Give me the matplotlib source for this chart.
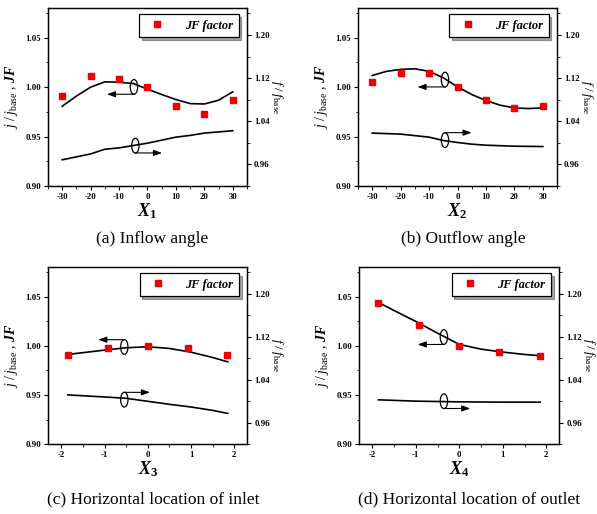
import matplotlib
matplotlib.use("Agg")
import matplotlib.pyplot as plt
from matplotlib.patches import Ellipse
from matplotlib.ticker import MultipleLocator, FormatStrFormatter

plt.rcParams['font.family'] = ['Liberation Serif', 'DejaVu Serif']
plt.rcParams['mathtext.fontset'] = 'custom'
plt.rcParams['mathtext.rm'] = 'Liberation Serif'
plt.rcParams['mathtext.it'] = 'Liberation Serif:italic'
plt.rcParams['mathtext.bf'] = 'Liberation Serif:bold'
plt.rcParams['mathtext.bfit'] = 'Liberation Serif:italic:bold'
plt.rcParams['axes.unicode_minus'] = False

# (a) inflow angle
xa_pts = [-30, -20, -10, 0, 10, 20, 30]
jfa = [0.991, 1.011, 1.008, 1.000, 0.981, 0.973, 0.987]
xa_j = [-30, -25, -20, -15, -10, -5, 0, 5, 10, 15, 20, 25, 30]
ja = [0.9807, 0.991, 1.000, 1.0054, 1.005, 1.0037, 0.998, 0.9926, 0.9875, 0.9834, 0.983, 0.9868, 0.9953]
xa_f = [-30, -20, -15, -10, 0, 10, 15, 20, 30]
fa = [0.9687, 0.9796, 0.9883, 0.9908, 0.9995, 1.0107, 1.0139, 1.0182, 1.0226]

# (b) outflow angle
xb_pts = [-30, -20, -10, 0, 10, 20, 30]
jfb = [1.0057, 1.0145, 1.0139, 1.000, 0.9875, 0.9787, 0.9811]
xb_j = [-30, -25, -20, -15, -10, -5, 0, 5, 10, 15, 20, 25, 30]
jb = [1.0118, 1.016, 1.018, 1.0186, 1.016, 1.0095, 1.0003, 0.9926, 0.9865, 0.9818, 0.979, 0.9784, 0.979]
xb_f = [-30, -20, -10, -5, 0, 5, 10, 20, 30]
fb = [1.0182, 1.0163, 1.0107, 1.0045, 1.0008, 0.9977, 0.9958, 0.9939, 0.9933]

# (c) horizontal location of inlet
xc_pts = [-1.85, -0.93, 0, 0.92, 1.84]
jfc = [0.9905, 0.998, 1.000, 0.998, 0.9905]
xc_j = [-1.85, -1.0, -0.5, 0, 0.5, 1.0, 1.5, 1.85]
jc = [0.9912, 0.9956, 0.998, 0.999, 0.9973, 0.9935, 0.9881, 0.9837]
xc_f = [-1.85, -1.0, -0.5, 0, 0.5, 1.0, 1.5, 1.85]
fc = [1.0119, 1.0081, 1.0056, 1.000, 0.9944, 0.9894, 0.9831, 0.9775]

# (d) horizontal location of outlet
xd_pts = [-1.86, -0.93, 0, 0.92, 1.86]
jfd = [1.0439, 1.0206, 1.000, 0.9939, 0.9892]
xd_j = [-1.86, -1.5, -1.0, -0.5, 0, 0.5, 1.0, 1.5, 1.86]
jd = [1.044, 1.0358, 1.0247, 1.0128, 1.0014, 0.9966, 0.9936, 0.9912, 0.9899]
xd_f = [-1.86, -1.0, 0, 1.0, 1.86]
fd = [1.0028, 1.0003, 0.999, 0.9984, 0.9984]

panels = [
    dict(rect=[0.0804, 0.638, 0.3333, 0.3463], xlim=(-35, 35), major=10, minor=5,
         xp=xa_pts, jf=jfa, xj=xa_j, j=ja, xf=xa_f, f=fa, xlabel='1',
         caption='(a) Inflow angle', cap=(0.255, 0.535),
         ej=(0.432, 0.557, 0.516, 0.296), ef=(0.439, 0.227, 0.186, 0.573)),
    dict(rect=[0.5997, 0.638, 0.3333, 0.3463], xlim=(-35, 35), major=10, minor=5,
         xp=xb_pts, jf=jfb, xj=xb_j, j=jb, xf=xb_f, f=fb, xlabel='2',
         caption='(b) Outflow angle', cap=(0.776, 0.535),
         ej=(0.437, 0.598, 0.557, 0.299), ef=(0.437, 0.258, 0.30, 0.571)),
    dict(rect=[0.0809, 0.1356, 0.3333, 0.345], xlim=(-2.3, 2.3), major=1, minor=0.5,
         xp=xc_pts, jf=jfc, xj=xc_j, j=jc, xf=xc_f, f=fc, xlabel='3',
         caption='(c) Horizontal location of inlet', cap=(0.257, 0.029),
         ej=(0.382, 0.549, 0.59, 0.251), ef=(0.382, 0.252, 0.293, 0.511)),
    dict(rect=[0.6018, 0.1356, 0.3351, 0.345], xlim=(-2.3, 2.3), major=1, minor=0.5,
         xp=xd_pts, jf=jfd, xj=xd_j, j=jd, xf=xd_f, f=fd, xlabel='4',
         caption='(d) Horizontal location of outlet', cap=(0.786, 0.029),
         ej=(0.423, 0.605, 0.563, 0.292), ef=(0.423, 0.243, 0.202, 0.555)),
]

fig = plt.figure(figsize=(5.97, 5.14), dpi=100)

for p in panels:
    ax = fig.add_axes(p['rect'])
    ax2 = ax.twinx()
    ax.set_zorder(ax2.get_zorder() + 1)
    ax.patch.set_visible(False)

    ax.plot(p['xj'], p['j'], color='black', lw=1.2)
    ax2.plot(p['xf'], p['f'], color='black', lw=1.2)
    ax.plot(p['xp'], p['jf'], 's', color='#ee0000', ms=5, ls='none', label='JF factor')

    ax.set_xlim(*p['xlim'])
    ax.set_ylim(0.90, 1.08)
    ax2.set_ylim(0.92, 1.25)
    ax.xaxis.set_major_locator(MultipleLocator(p['major']))
    ax.xaxis.set_minor_locator(MultipleLocator(p['minor']))
    ax.yaxis.set_major_locator(MultipleLocator(0.05))
    ax.yaxis.set_minor_locator(MultipleLocator(0.025))
    ax2.yaxis.set_major_locator(MultipleLocator(0.08))
    ax2.yaxis.set_minor_locator(MultipleLocator(0.04))
    ax2.set_yticks([0.96, 1.04, 1.12, 1.20])
    ax.yaxis.set_major_formatter(FormatStrFormatter('%.2f'))
    ax2.yaxis.set_major_formatter(FormatStrFormatter('%.2f'))

    for a in (ax, ax2):
        a.tick_params(which='major', direction='out', length=3, width=0.8, labelsize=6.3, pad=2)
        a.tick_params(which='minor', direction='out', length=1.8, width=0.6)
        for lab in a.get_xticklabels() + a.get_yticklabels():
            lab.set_fontweight('bold')
        for s in a.spines.values():
            s.set_linewidth(0.9)

    ax.set_xlabel(r'$\mathbfit{X}_{\mathbf{' + p['xlabel'] + '}}$', fontsize=13, labelpad=0)
    ax.set_ylabel(r'$\mathit{j}\;/\;\mathit{j}_{\mathrm{base}}$ , $\mathbfit{JF}$', fontsize=10, labelpad=4)
    ax2.set_ylabel(r'$\mathit{f}\;/\;\mathit{f}_{\mathrm{base}}$', fontsize=9.5, rotation=270, labelpad=11)

    leg = ax.legend(loc='upper right', bbox_to_anchor=(0.958, 0.966), borderaxespad=0,
                    frameon=True, fancybox=False, shadow=True, handletextpad=1.2,
                    borderpad=0.45, prop=dict(family='Liberation Serif', weight='bold', style='italic', size=9))
    leg.get_frame().set_edgecolor('black')
    leg.get_frame().set_linewidth(0.9)

    for ex, ey, ay, ax_end in (p['ej'], p['ef']):
        ax.add_patch(Ellipse((ex, ey), 0.037, 0.083, transform=ax.transAxes,
                             fill=False, ec='black', lw=0.9, zorder=5))
        ax.annotate('', xy=(ax_end, ay), xytext=(ex, ay), xycoords='axes fraction',
                    arrowprops=dict(arrowstyle='-|>,head_length=0.5,head_width=0.18',
                                    color='black', lw=0.8, shrinkA=0, shrinkB=0))

    fig.text(p['cap'][0], p['cap'][1], p['caption'], ha='center', va='center', fontsize=12.5)

fig.savefig('out.png', dpi=100)
